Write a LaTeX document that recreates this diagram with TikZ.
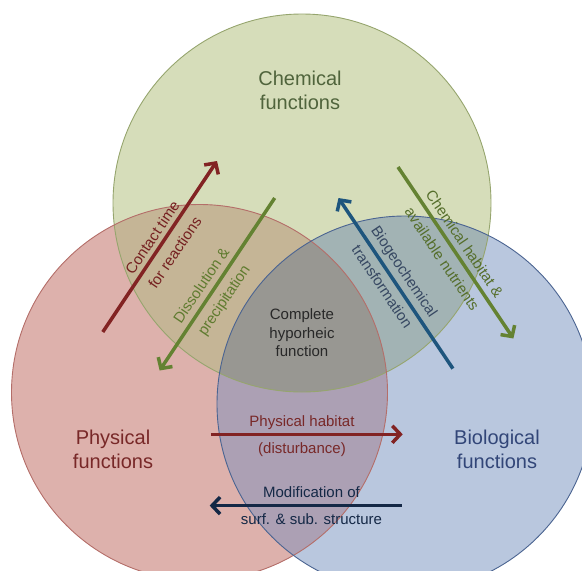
\documentclass[tikz,border=0pt]{standalone}
\usepackage{fontspec}
\setmainfont{Liberation Sans}
\usetikzlibrary{arrows.meta}
\definecolor{chemF}{RGB}{214,221,186}
\definecolor{physF}{RGB}{221,177,172}
\definecolor{bioF}{RGB}{185,199,222}
\definecolor{cpF}{RGB}{197,181,150}
\definecolor{cbF}{RGB}{162,179,180}
\definecolor{pbF}{RGB}{172,160,180}
\definecolor{allF}{RGB}{152,151,146}
\definecolor{chemS}{RGB}{150,165,110}
\definecolor{physS}{RGB}{180,110,105}
\definecolor{bioS}{RGB}{75,100,145}
\definecolor{chemT}{RGB}{80,100,60}
\definecolor{physT}{RGB}{120,40,40}
\definecolor{bioT}{RGB}{50,70,120}
\definecolor{arRed}{RGB}{130,35,35}
\definecolor{arGreen}{RGB}{100,130,50}
\definecolor{arBlue}{RGB}{30,85,125}
\definecolor{arNavy}{RGB}{20,40,70}
\definecolor{midT}{RGB}{40,40,40}
\tikzset{
  mainlbl/.style={font=\fontsize{20}{24}\selectfont, align=center},
  smalllbl/.style={font=\fontsize{15}{27}\selectfont, align=center},
  flowarrow/.style={line width=3.5pt, -{Straight Barb[length=8pt,width=17pt]}},
}
\begin{document}
\begin{tikzpicture}[x=1pt,y=-1pt]
\useasboundingbox (0,0) rectangle (582,571);
\clip (0,0) rectangle (582,571);
\def\chem{(302,203) circle (189)}
\def\phys{(199.5,392.5) circle (188)}
\def\bio{(405,404) circle (188)}
% base fills
\fill[chemF] \chem;
\fill[physF] \phys;
\fill[bioF] \bio;
\begin{scope}
  \clip \chem;
  \fill[cpF] \phys;
  \fill[cbF] \bio;
\end{scope}
\begin{scope}
  \clip \phys;
  \fill[pbF] \bio;
\end{scope}
\begin{scope}
  \clip \chem;
  \clip \phys;
  \fill[allF] \bio;
\end{scope}
\draw[chemS, line width=0.9pt] \chem;
\draw[physS, line width=0.9pt] \phys;
\draw[bioS, line width=0.9pt] \bio;
% main labels
\node[mainlbl, text=chemT] (chemlbl) at (300,90) {Chemical\\functions};
\node[mainlbl, text=physT] (physlbl) at (113,449.5) {Physical\\functions};
\node[mainlbl, text=bioT] (biolbl) at (497,449.5) {Biological\\functions};
\node[font=\fontsize{15}{18.5}\selectfont, align=center, text=midT] (center) at (302,333) {Complete\\hyporheic\\function};
% arrow end points
\coordinate (ctA) at (102.8,332);
\coordinate (ctB) at (217,161);
\coordinate (dpA) at (274.7,198);
\coordinate (dpB) at (159.6,370.5);
\coordinate (bgA) at (452.9,368.6);
\coordinate (bgB) at (338.5,198);
\coordinate (chA) at (398,167);
\coordinate (chB) at (513.4,338.5);
\coordinate (phA) at (210.8,434.3);
\coordinate (phB) at (402.7,434.3);
\coordinate (moA) at (401.6,505.6);
\coordinate (moB) at (209.7,505.6);
% arrows
\draw[flowarrow, arRed] (ctA) -- (ctB);
\draw[flowarrow, arGreen] (dpA) -- (dpB);
\draw[flowarrow, arBlue] (bgA) -- (bgB);
\draw[flowarrow, arGreen] (chA) -- (chB);
\draw[flowarrow, arRed] (phA) -- (phB);
\draw[flowarrow, arNavy] (moA) -- (moB);
% arrow labels
\node[smalllbl, text=arRed!90!black, rotate=56] (ctlbl) at (163.5,245) {Contact time\\for reactions};
\node[smalllbl, text=arGreen!95!black, rotate=56] (dplbl) at (213.5,293.6) {Dissolution \&\\precipitation};
\node[smalllbl, text=arNavy!85!white, rotate=-56] (bglbl) at (393.5,278.8) {Biogeochemical\\transformation};
\node[smalllbl, text=arGreen!85!black, rotate=-56] (chlbl) at (453.5,251.5) {Chemical habitat \&\\available nutrients};
\node[smalllbl, text=physT] (phlbl) at (302,436.5) {Physical habitat\\(disturbance)};
\node[smalllbl, text=arNavy] (molbl) at (311.5,506) {Modification of\\surf. \& sub. structure};
\end{tikzpicture}
\end{document}
